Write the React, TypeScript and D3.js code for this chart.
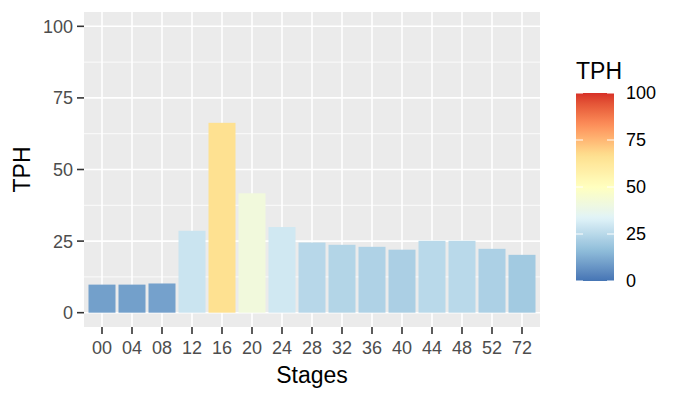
import * as d3 from "d3";

const stages = ["00", "04", "08", "12", "16", "20", "24", "28", "32", "36", "40", "44", "48", "52", "72"];
const tph = [9.8, 9.8, 10.2, 28.6, 66.3, 41.7, 29.9, 24.5, 23.7, 23.0, 22.0, 25.1, 25.1, 22.3, 20.2];
const yTicks = [0, 25, 50, 75, 100];
const yMinor = [12.5, 37.5, 62.5, 87.5];
const legendTicks = [0, 25, 50, 75, 100];
// RdYlBu (7 classes), reversed: low = blue, high = red
const palette = ["#4575b4", "#91bfdb", "#e0f3f8", "#ffffbf", "#fee090", "#fc8d59", "#d73027"];

const W = 683;
const H = 399;
const panel = { left: 84, right: 540, top: 12, bottom: 327 };
const font = "'Liberation Sans', Arial, sans-serif";

export default function App() {
  // discrete x with 0.6 expansion on both ends
  const xc = d3.scalePoint().domain(stages).range([panel.left + 18, panel.right - 18]);
  const barW = xc.step() * 0.9;

  const y = d3.scaleLinear().domain([-5, 105]).range([panel.bottom, panel.top]);

  const color = d3.scaleLinear<string>()
    .domain(palette.map((_, i) => (i * 100) / (palette.length - 1)))
    .range(palette)
    .interpolate(d3.interpolateLab);

  // legend
  const lg = { x: 576, w: 38, top: 93, bottom: 281 };
  const ly = d3.scaleLinear().domain([0, 100]).range([lg.bottom, lg.top]);
  const stops = d3.range(0, 101, 2);

  return (
    <svg width={W} height={H} style={{ position: "absolute", left: 0, top: 0, background: "#fff" }} fontFamily={font}>
      <defs>
        <linearGradient id="tphGrad" x1="0" y1="1" x2="0" y2="0">
          {stops.map((s) => (
            <stop key={s} offset={`${s}%`} stopColor={color(s)} />
          ))}
        </linearGradient>
      </defs>
      <rect x={panel.left} y={panel.top} width={panel.right - panel.left} height={panel.bottom - panel.top} fill="#ebebeb" />
      {yMinor.map((t) => (
        <line key={"m" + t} x1={panel.left} x2={panel.right} y1={y(t)} y2={y(t)} stroke="#fff" strokeWidth={0.8} />
      ))}
      {yTicks.map((t) => (
        <line key={"g" + t} x1={panel.left} x2={panel.right} y1={y(t)} y2={y(t)} stroke="#fff" strokeWidth={1.6} />
      ))}
      {stages.map((s) => (
        <line key={"v" + s} x1={xc(s)} x2={xc(s)} y1={panel.top} y2={panel.bottom} stroke="#fff" strokeWidth={1.6} />
      ))}
      {stages.map((s, i) => (
        <rect
          key={"b" + s}
          x={(xc(s) as number) - barW / 2}
          y={y(tph[i])}
          width={barW}
          height={y(0) - y(tph[i])}
          fill={color(tph[i])}
        />
      ))}
      {/* y axis */}
      {yTicks.map((t) => (
        <g key={"yt" + t}>
          <line x1={panel.left - 7} x2={panel.left} y1={y(t)} y2={y(t)} stroke="#333" strokeWidth={1.6} />
          <text x={panel.left - 11} y={y(t)} dy="0.36em" textAnchor="end" fontSize={18} fill="#4d4d4d">
            {t}
          </text>
        </g>
      ))}
      {/* x axis */}
      {stages.map((s) => (
        <g key={"xt" + s}>
          <line x1={xc(s)} x2={xc(s)} y1={panel.bottom} y2={panel.bottom + 7} stroke="#333" strokeWidth={1.6} />
          <text x={xc(s)} y={panel.bottom + 21} dy="0.36em" textAnchor="middle" fontSize={18} fill="#4d4d4d">
            {s}
          </text>
        </g>
      ))}
      <text x={(panel.left + panel.right) / 2} y={375} dy="0.36em" textAnchor="middle" fontSize={23} fill="#000">
        Stages
      </text>
      <text
        transform={`translate(22,${(panel.top + panel.bottom) / 2}) rotate(-90)`}
        dy="0.36em"
        textAnchor="middle"
        fontSize={23}
        fill="#000"
      >
        TPH
      </text>
      {/* legend */}
      <text x={lg.x} y={79} fontSize={23} fill="#000">
        TPH
      </text>
      <rect x={lg.x} y={lg.top} width={lg.w} height={lg.bottom - lg.top} fill="url(#tphGrad)" />
      {legendTicks.map((t) => (
        <g key={"lt" + t}>
          <line x1={lg.x} x2={lg.x + 7} y1={ly(t)} y2={ly(t)} stroke="#fff" strokeWidth={1} />
          <line x1={lg.x + lg.w - 7} x2={lg.x + lg.w} y1={ly(t)} y2={ly(t)} stroke="#fff" strokeWidth={1} />
          <text x={626} y={ly(t)} dy="0.36em" fontSize={18} fill="#000">
            {t}
          </text>
        </g>
      ))}
    </svg>
  );
}
